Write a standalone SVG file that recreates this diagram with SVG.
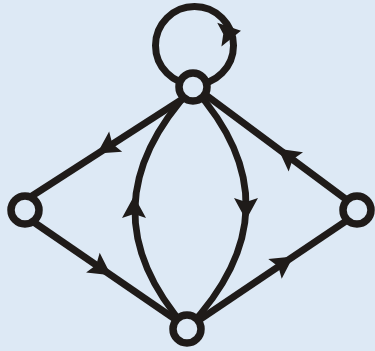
<svg xmlns="http://www.w3.org/2000/svg" xmlns:xlink="http://www.w3.org/1999/xlink" width="375" height="351" viewBox="0 0 375 351">
<style>
.e{fill:none;stroke:#1f1b19;stroke-width:7}
.a{fill:#1f1b19}
.n{fill:#dde9f5;stroke:#1f1b19;stroke-width:7.5}
</style>
<defs>
<path id="ah" d="M1,0 L-21,-12 L-17,0 L-21,12 Z"/>
</defs>
<rect width="375" height="351" fill="#dde9f5"/>
<g id="connectors">
<circle class="e" cx="194.5" cy="45.5" r="39"/>
<path class="e" d="M185,97.4 L29.2,197.7"/>
<path class="e" d="M32.1,221 L176.4,320.1"/>
<path class="e" d="M347.8,200.6 L204.2,93.7"/>
<path class="e" d="M197.5,321.1 L348.1,219.6"/>
<path class="e" style="stroke-width:6.5" d="M193,87 Q80,208 187,329"/>
<path class="e" style="stroke-width:6.5" d="M193,87 Q302,208 187,329"/>
<use class="a" xlink:href="#ah" transform="translate(240,31) rotate(-10)"/>
<use class="a" xlink:href="#ah" transform="translate(98,153) rotate(147.2)"/>
<use class="a" xlink:href="#ah" transform="translate(110.2,274.6) rotate(34.5)"/>
<use class="a" xlink:href="#ah" transform="translate(279,149.4) rotate(216.7)"/>
<use class="a" xlink:href="#ah" transform="translate(292.4,257.1) rotate(-34)"/>
<use class="a" xlink:href="#ah" transform="translate(134,197) rotate(-90)"/>
<use class="a" xlink:href="#ah" transform="translate(246,219) rotate(90)"/>
</g>
<g id="node-top"><circle class="n" cx="193" cy="87" r="14"/></g>
<g id="node-left"><circle class="n" cx="25" cy="210" r="14"/></g>
<g id="node-right"><circle class="n" cx="357" cy="210" r="14"/></g>
<g id="node-bottom"><circle class="n" cx="187" cy="329" r="14"/></g>
</svg>
